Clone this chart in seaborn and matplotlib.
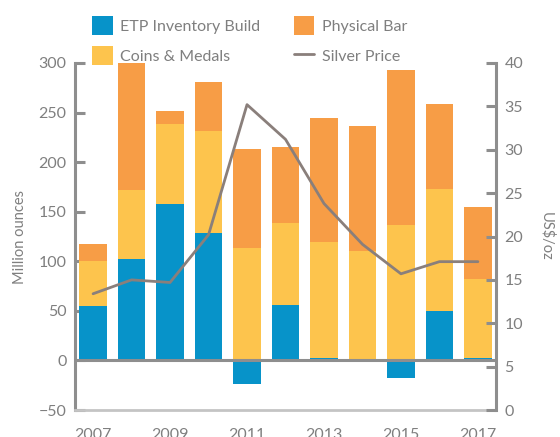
import matplotlib
matplotlib.use("Agg")
import matplotlib.pyplot as plt
import seaborn as sns
import numpy as np
import pandas as pd

years = [str(y) for y in range(2007, 2018)]
etp = [55, 102, 158, 129, -24, 56, 2, 0, -18, 50, 2]
coins = [45, 70, 80, 102, 113, 83, 117, 110, 137, 123, 80]
physical = [17, 128, 14, 50, 100, 76, 126, 126, 156, 86, 73]
silver_price = [13.4, 15.0, 14.7, 20.2, 35.2, 31.2, 23.8, 19.1, 15.7, 17.1, 17.1]

BLUE = '#0793c9'
YELLOW = '#fdc44d'
ORANGE = '#f79d46'
LINE = '#8a7f7b'
AXIS = '#8e8e8e'
TEXT = '#7f7f7f'

sns.set_theme(style="white")
plt.rcParams['font.family'] = ['Lato', 'DejaVu Sans']
plt.rcParams['text.color'] = TEXT
plt.rcParams['axes.labelcolor'] = TEXT
plt.rcParams['xtick.color'] = TEXT
plt.rcParams['ytick.color'] = TEXT

df = pd.DataFrame({'year': years, 'etp': etp, 'coins': coins, 'physical': physical})
df['coins_top'] = df['etp'].clip(lower=0) + df['coins']
df['physical_top'] = df['coins_top'] + df['physical']

fig = plt.figure(figsize=(5.6, 4.37), dpi=100)
ax = fig.add_axes([75 / 560, 27 / 437, 421 / 560, 347 / 437])

# overlaid cumulative bars = stacked look
bar_kw = dict(saturation=1, width=0.72, errorbar=None, ax=ax, linewidth=0)
sns.barplot(data=df, x='year', y='physical_top', color=ORANGE, label='Physical Bar', **bar_kw)
sns.barplot(data=df, x='year', y='coins_top', color=YELLOW, label='Coins & Medals', **bar_kw)
sns.barplot(data=df, x='year', y='etp', color=BLUE, label='ETP Inventory Build', **bar_kw)
ax.axhline(0, color=AXIS, lw=2.2, zorder=5)

ax.set_ylim(-50, 300)
ax.set_yticks(range(-50, 301, 50))
ax.set_xlim(-0.47, 10.47)
ax.set_xticks(range(0, 11, 2))
ax.set_xticklabels(years[::2])
ax.set_xlabel('')
ax.set_ylabel('Million ounces', fontsize=10.5, labelpad=8)

ax2 = ax.twinx()
sns.lineplot(x=np.arange(len(years)), y=silver_price, color=LINE, lw=2, ax=ax2,
             label='Silver Price', legend=False)
ax2.set_ylim(0, 40)
ax2.set_yticks(range(0, 41, 5))
ax2.set_xlim(-0.47, 10.47)
ax2.set_ylabel(r'US\$/oz', rotation=270, fontsize=10.5, labelpad=22)

for a in (ax, ax2):
    for s in a.spines.values():
        s.set_visible(False)
ax.spines['left'].set_visible(True)
ax.spines['left'].set_color(AXIS)
ax.spines['left'].set_linewidth(2.2)
ax.spines['bottom'].set_visible(True)
ax.spines['bottom'].set_color('#c4c4c4')
ax.spines['bottom'].set_linewidth(2)
ax2.spines['right'].set_visible(True)
ax2.spines['right'].set_color(AXIS)
ax2.spines['right'].set_linewidth(2.2)

ax.tick_params(axis='y', direction='in', length=7, width=2.2, color=AXIS,
               labelsize=11.5, pad=6, left=True)
ax.tick_params(axis='x', length=0, labelsize=11.5, pad=13)
ax2.tick_params(axis='y', direction='in', length=7, width=2.2, color=AXIS,
                labelsize=11.5, pad=6, right=True)

h1, l1 = ax.get_legend_handles_labels()
h2, l2 = ax2.get_legend_handles_labels()
handles = dict(zip(l1 + l2, h1 + h2))
order = ['ETP Inventory Build', 'Coins & Medals', 'Physical Bar', 'Silver Price']
if ax.get_legend() is not None:
    ax.get_legend().remove()
fig.legend([handles[k] for k in order], order, loc='upper left',
           bbox_to_anchor=(92 / 560, 1 - 16 / 437), ncol=2, frameon=False,
           fontsize=11.5, handlelength=1.3, handleheight=1.45, handletextpad=0.45,
           labelspacing=0.7, columnspacing=2.1, borderpad=0, borderaxespad=0)

fig.savefig('out.png', dpi=100)
